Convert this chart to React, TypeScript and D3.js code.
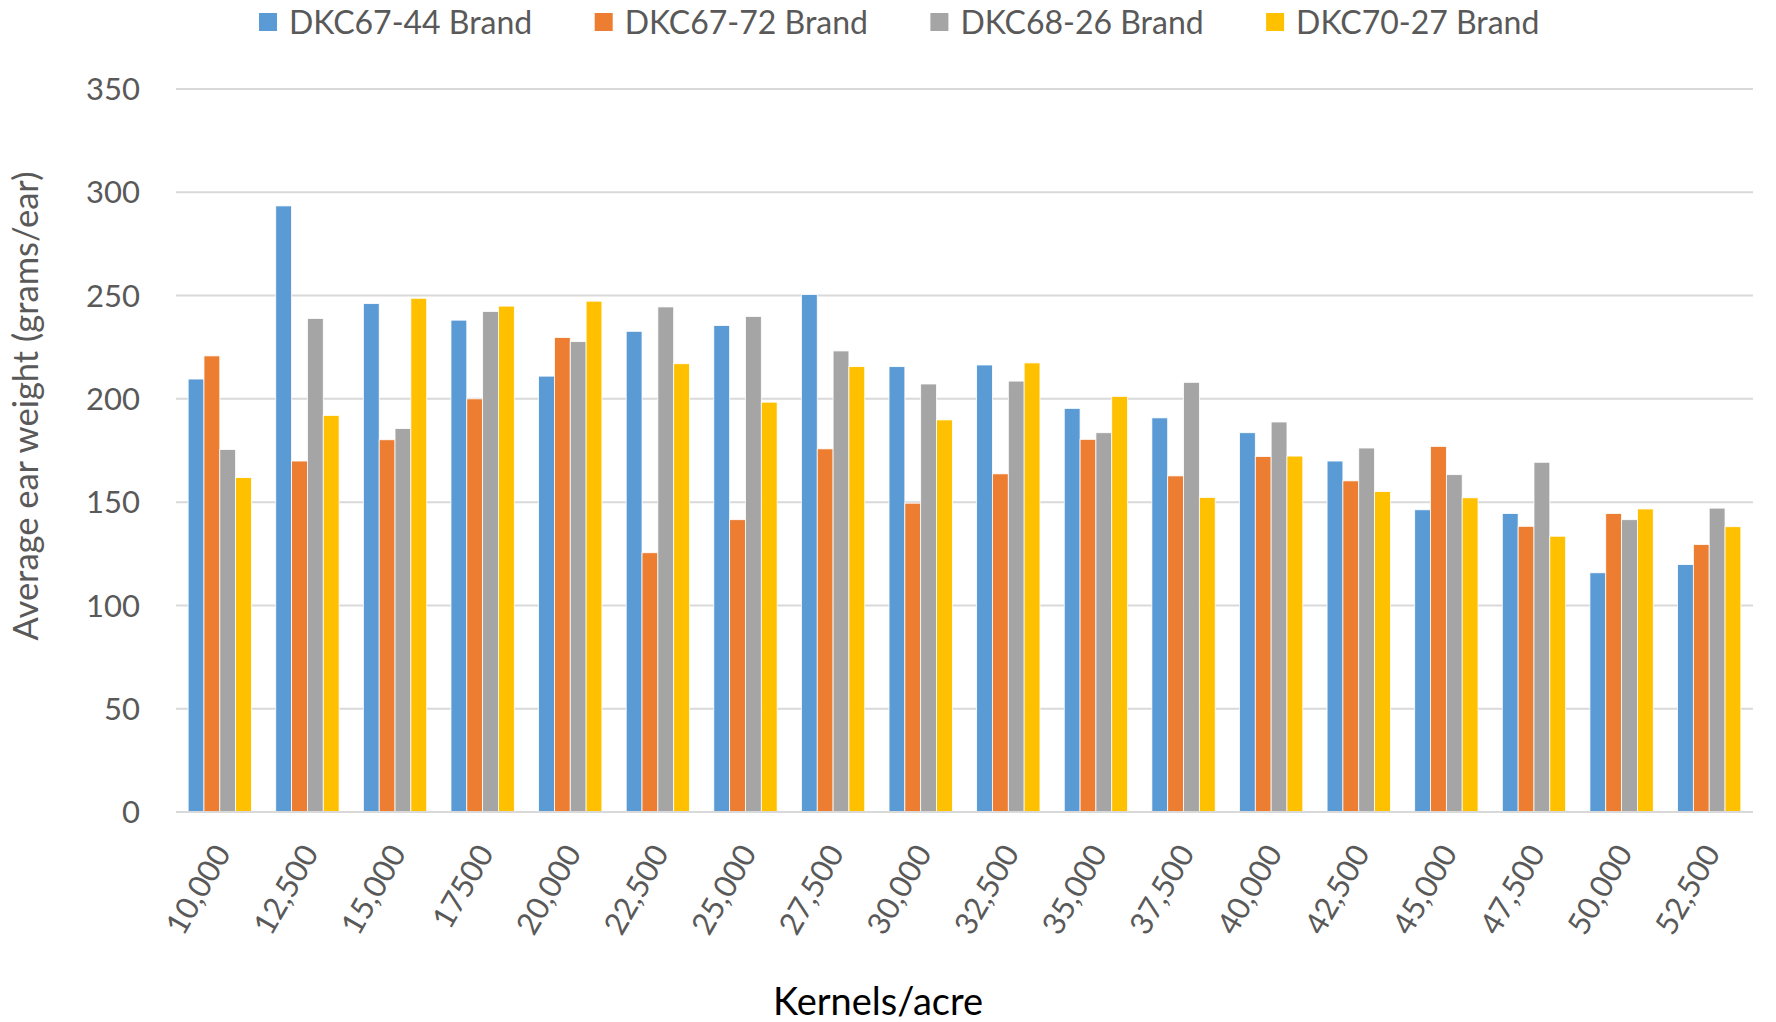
import React from "react";
import * as d3 from "d3";

const categories = ["10,000", "12,500", "15,000", "17500", "20,000", "22,500", "25,000", "27,500", "30,000", "32,500", "35,000", "37,500", "40,000", "42,500", "45,000", "47,500", "50,000", "52,500"];
const seriesNames = ["DKC67-44 Brand", "DKC67-72 Brand", "DKC68-26 Brand", "DKC70-27 Brand"];
const seriesColors = ["#5B9BD5", "#ED7D31", "#A5A5A5", "#FFC000"];
const dkc6744 = [209.6, 293.4, 246.1, 238.1, 211.0, 232.7, 235.5, 250.5, 215.6, 216.4, 195.4, 190.8, 183.6, 169.9, 146.3, 144.5, 115.8, 119.8];
const dkc6772 = [220.8, 169.9, 180.2, 200.0, 229.7, 125.5, 141.5, 175.8, 149.5, 163.7, 180.4, 162.7, 172.1, 160.3, 177.0, 138.3, 144.5, 129.5];
const dkc6826 = [175.5, 238.9, 185.6, 242.3, 227.7, 244.5, 239.9, 223.2, 207.2, 208.6, 183.6, 208.0, 188.8, 176.2, 163.3, 169.3, 141.5, 147.1];
const dkc7027 = [161.9, 192.0, 248.7, 244.9, 247.3, 217.0, 198.4, 215.6, 189.8, 217.4, 201.2, 152.3, 172.3, 155.1, 152.1, 133.5, 146.7, 138.1];
const yTicks = [0, 50, 100, 150, 200, 250, 300, 350];
const yTitle = "Average ear weight (grams/ear)";
const xTitle = "Kernels/acre";

const W = 1776;
const H = 1022;
const M = { left: 176, right: 1753, top: 89, bottom: 812 };

export default function App() {
  const series = [dkc6744, dkc6772, dkc6826, dkc7027];
  const x0 = d3.scaleBand<string>().domain(categories).range([M.left, M.right]).paddingInner(0.277).paddingOuter(0.1385);
  const x1 = d3.scaleBand<number>().domain(d3.range(series.length)).range([0, x0.bandwidth()]).padding(0);
  const y = d3.scaleLinear().domain([0, 350]).range([M.bottom, M.top]);
  const legendX = d3.scaleLinear().domain([0, 1]).range([259, 259 + 335.7]);
  const font = "Lato, 'Open Sans', sans-serif";

  return (
    <svg width={W} height={H} style={{ position: "absolute", left: 0, top: 0, background: "#fff" }}>
      <rect x={0} y={0} width={W} height={H} fill="#fff" />
      {yTicks.map((t) => (
        <g key={t}>
          <line x1={M.left} x2={M.right} y1={y(t)} y2={y(t)} stroke="#D9D9D9" strokeWidth={2} />
          <text x={140} y={y(t)} dy="0.36em" textAnchor="end" fontFamily={font} fontSize={31} fill="#595959">
            {t}
          </text>
        </g>
      ))}
      {categories.map((c, i) => (
        <g key={c}>
          {series.map((s, k) => (
            <rect
              key={k}
              x={(x0(c) as number) + (x1(k) as number)}
              y={y(s[i])}
              width={x1.bandwidth()}
              height={y(0) - y(s[i])}
              fill={seriesColors[k]}
              stroke="#fff"
              strokeWidth={0.8}
            />
          ))}
          <text
            transform={`translate(${(x0(c) as number) + x0.bandwidth() / 2 + 12},${M.bottom + 41}) rotate(-60)`}
            textAnchor="end"
            fontFamily={font}
            fontSize={31}
            fill="#595959"
          >
            {c}
          </text>
        </g>
      ))}
      <line x1={M.left} x2={M.right} y1={y(0)} y2={y(0)} stroke="#D9D9D9" strokeWidth={2} />
      {seriesNames.map((n, k) => (
        <g key={n}>
          <rect x={legendX(k)} y={13} width={18} height={18} fill={seriesColors[k]} />
          <text x={legendX(k) + 30} y={34} fontFamily={font} fontSize={32} fill="#595959">
            {n}
          </text>
        </g>
      ))}
      <text transform={`translate(38,406) rotate(-90)`} textAnchor="middle" fontFamily={font} fontSize={34.5} fill="#595959">
        {yTitle}
      </text>
      <text x={878} y={1015} textAnchor="middle" fontFamily={font} fontSize={38} fill="#000">
        {xTitle}
      </text>
    </svg>
  );
}
